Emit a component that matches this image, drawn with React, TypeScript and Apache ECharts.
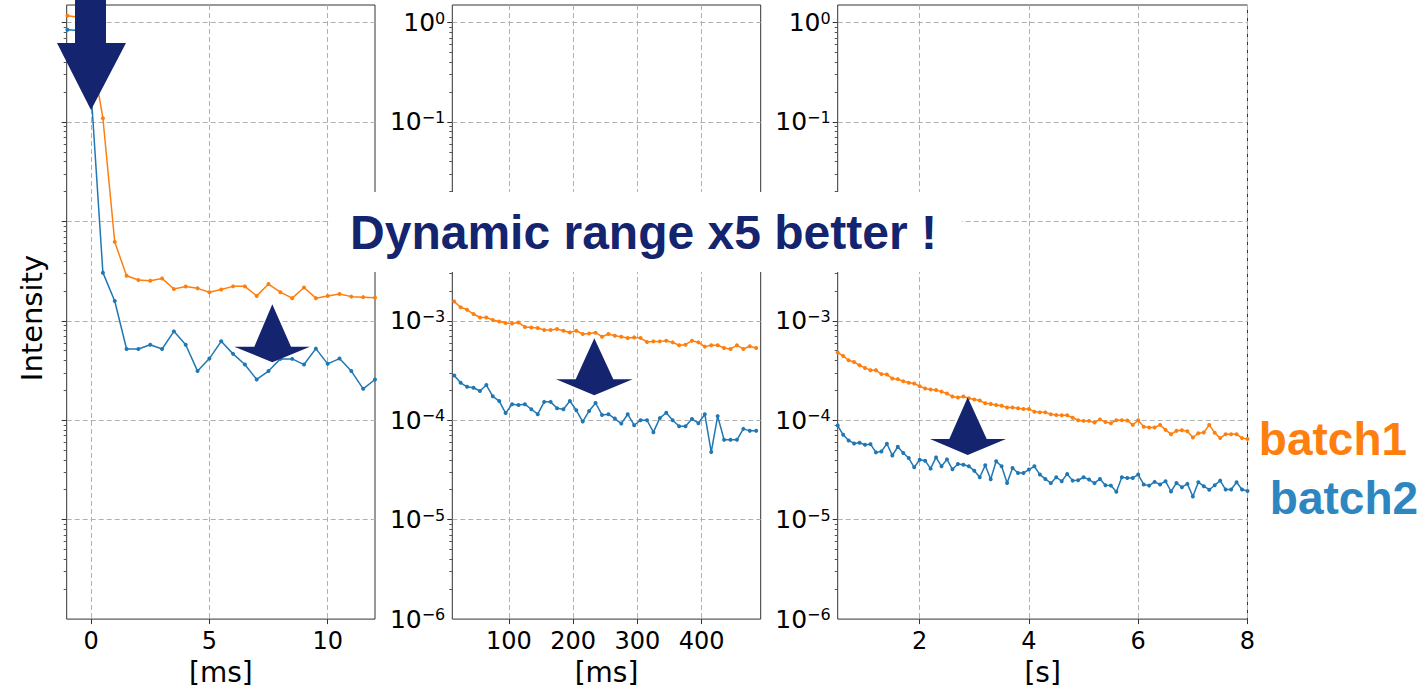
import { useEffect, useRef } from 'react';
import * as echarts from 'echarts';

// ---------- data ----------
const p1X = [-1, -0.5, 0, 0.5, 1, 1.5, 2, 2.5, 3, 3.5, 4, 4.5, 5, 5.5, 6, 6.5, 7, 7.5, 8, 8.5, 9, 9.5, 10, 10.5, 11, 11.5, 12];
const p1Batch1 = [1.17, 1.13, 0.53, 0.109, 0.00622, 0.00284, 0.00257, 0.00253, 0.00267, 0.00209, 0.00221, 0.00212, 0.00194, 0.00206, 0.00222, 0.00222, 0.00178, 0.00234, 0.00194, 0.00169, 0.00216, 0.00169, 0.00178, 0.00186, 0.00175, 0.00173, 0.00171];
const p1Batch2 = [0.845, 0.83, 0.2, 0.00305, 0.00158, 0.000521, 0.000521, 0.000575, 0.000521, 0.000783, 0.000575, 0.000312, 0.000417, 0.000622, 0.000465, 0.000363, 0.000257, 0.000312, 0.000414, 0.000414, 0.000363, 0.000525, 0.000369, 0.000417, 0.000312, 0.000207, 0.000257];

const p2X = [15, 25, 35, 45, 55, 65, 75, 85, 95, 105, 115, 125, 135, 145, 155, 165, 175, 185, 195, 205, 215, 225, 235, 245, 255, 265, 275, 285, 295, 305, 315, 325, 335, 345, 355, 365, 375, 385, 395, 405, 415, 425, 435, 445, 455, 465, 475, 485];
const p2Batch1 = [0.00156, 0.00137, 0.00129, 0.00117, 0.00108, 0.00108, 0.00102, 0.000985, 0.000948, 0.00094,
  0.000962, 0.000865, 0.000858, 0.000845, 0.000807, 0.000807, 0.000826, 0.000794, 0.000764, 0.000794,
  0.000736, 0.000747, 0.000759, 0.000692, 0.000736, 0.000708, 0.000692, 0.000671, 0.000681, 0.000671,
  0.000612, 0.000621, 0.000621, 0.000631, 0.000607, 0.000567, 0.000575, 0.000631, 0.000607, 0.00055,
  0.000567, 0.000567, 0.000533, 0.000521, 0.000567, 0.000521, 0.000554, 0.000533];
const p2Batch2 = [0.000282, 0.000238, 0.000217, 0.000212, 0.000197, 0.000226, 0.000174, 0.000156, 0.000118, 0.000145,
  0.000142, 0.000145, 0.000129, 0.000115, 0.000153, 0.000153, 0.000132, 0.000129, 0.000156, 0.000126,
  0.000097, 0.000124, 0.000149, 0.000113, 0.000115, 0.000104, 0.0000926, 0.000115, 0.0000891, 0.0001,
  0.0001, 0.0000759, 0.000105, 0.000119, 0.0001, 0.0000871, 0.0000871, 0.000103, 0.0000933, 0.000115,
  0.0000479, 0.00011, 0.0000636, 0.0000636, 0.0000636, 0.0000819, 0.0000782, 0.0000782];

const p3X = [0.5, 0.6, 0.7, 0.8, 0.9, 1.0, 1.1, 1.2, 1.3, 1.4, 1.5, 1.6, 1.7, 1.8, 1.9, 2.0, 2.1, 2.2, 2.3, 2.4, 2.5, 2.6, 2.7, 2.8, 2.9, 3.0, 3.1, 3.2, 3.3, 3.4, 3.5, 3.6, 3.7, 3.8, 3.9, 4.0, 4.1, 4.2, 4.3, 4.4, 4.5, 4.6, 4.7, 4.8, 4.9, 5.0, 5.1, 5.2, 5.3, 5.4, 5.5, 5.6, 5.7, 5.8, 5.9, 6.0, 6.1, 6.2, 6.3, 6.4, 6.5, 6.6, 6.7, 6.8, 6.9, 7.0, 7.1, 7.2, 7.3, 7.4, 7.5, 7.6, 7.7, 7.8, 7.9, 8.0];
const p3Batch1 = [0.000479, 0.000443, 0.000401, 0.000386, 0.000357, 0.000336, 0.000319, 0.000319, 0.000291, 0.000288,
  0.000263, 0.000259, 0.000247, 0.000238, 0.000234, 0.00022, 0.000209, 0.000204, 0.000201, 0.000194,
  0.000186, 0.000173, 0.000169, 0.000173, 0.000166, 0.000162, 0.000158, 0.000148, 0.000146, 0.000142,
  0.00014, 0.000134, 0.000134, 0.000132, 0.00013, 0.00013, 0.000122, 0.00012, 0.00012, 0.000115,
  0.000113, 0.000112, 0.000112, 0.000106, 0.0001, 0.0000985, 0.0000985, 0.0000948, 0.000102, 0.0000962,
  0.0000933, 0.0001, 0.0001, 0.0000992, 0.0000898, 0.0001, 0.0000858, 0.0000845, 0.0000845, 0.0000898,
  0.00008, 0.0000724, 0.0000782, 0.0000794, 0.0000776, 0.0000671, 0.0000741, 0.0000753, 0.0000898, 0.0000747,
  0.0000661, 0.0000724, 0.0000724, 0.0000724, 0.0000661, 0.0000646];
const p3Batch2 = [0.0000885, 0.0000714, 0.0000626, 0.0000584, 0.0000593, 0.0000567, 0.0000575, 0.0000475, 0.0000486, 0.000058,
  0.0000443, 0.0000541, 0.0000468, 0.0000417, 0.0000336, 0.0000401, 0.0000392, 0.0000326, 0.0000423, 0.0000344,
  0.0000404, 0.0000321, 0.0000363, 0.0000357, 0.0000344, 0.0000311, 0.0000267, 0.0000352, 0.0000255, 0.0000386,
  0.0000344, 0.0000234, 0.0000331, 0.0000295, 0.0000295, 0.0000319, 0.0000344, 0.0000284, 0.0000257, 0.0000233,
  0.0000267, 0.0000244, 0.0000288, 0.0000247, 0.0000249, 0.0000267, 0.0000253, 0.0000233, 0.0000257, 0.0000222,
  0.000022, 0.0000191, 0.0000267, 0.0000263, 0.0000263, 0.0000284, 0.0000226, 0.000022, 0.000024, 0.0000226,
  0.0000244, 0.0000192, 0.0000234, 0.0000212, 0.0000229, 0.0000171, 0.0000238, 0.0000217, 0.00002, 0.0000222,
  0.0000247, 0.0000201, 0.0000201, 0.0000238, 0.0000201, 0.0000194];

// ---------- ticks ----------
// 10^-2 labels of the right panels sit under the white caption box in the reference
const yMajorLabels = [1e-6, 1e-5, 1e-4, 1e-3, 1e-1, 1];
const yMajorTicks = [1e-5, 1e-4, 1e-3, 1e-2, 1e-1, 1];
const yMinorTicks = [
  2e-6, 3e-6, 4e-6, 5e-6, 6e-6, 7e-6, 8e-6, 9e-6,
  2e-5, 3e-5, 4e-5, 5e-5, 6e-5, 7e-5, 8e-5, 9e-5,
  2e-4, 3e-4, 4e-4, 5e-4, 6e-4, 7e-4, 8e-4, 9e-4,
  2e-3, 3e-3, 4e-3, 5e-3, 6e-3, 7e-3, 8e-3, 9e-3,
  2e-2, 3e-2, 4e-2, 5e-2, 6e-2, 7e-2, 8e-2, 9e-2,
  2e-1, 3e-1, 4e-1, 5e-1, 6e-1, 7e-1, 8e-1, 9e-1,
];
const p1XTicks = [0, 5, 10];
const p2XTicks = [100, 200, 300, 400];
const p3XTicks = [2, 4, 6, 8];
const xNames = ['[ms]', '[ms]', '[s]'];

const ORANGE = '#ff7f0e';
const BLUE = '#1f77b4';
const NAVY = '#14246f';
const FONT = 'DejaVu Sans';

const grids = [
  { left: 66.7, top: 5, width: 308.3, height: 617.7 },
  { left: 452.3, top: 5, width: 308.4, height: 617.7 },
  { left: 837.7, top: 5, width: 409.8, height: 617.7 },
];
const xRanges = [[-1.03, 12], [12, 492], [0.5, 8]];
const xTicks = [p1XTicks, p2XTicks, p3XTicks];

const splitLine = { show: true, lineStyle: { color: '#b0b0b0', width: 1, type: [5, 3] } };

function supLabel(v: number) {
  const e = Math.round(Math.log10(v));
  const s = e < 0 ? '\u2212' + -e : String(e);
  return `{b|10}{s|${s}}`;
}

function buildOption() {
  const xAxis = grids.map((_, i) => ({
    type: 'value',
    gridIndex: i,
    min: xRanges[i][0],
    max: xRanges[i][1],
    name: xNames[i],
    nameLocation: 'middle',
    nameGap: 37,
    nameTextStyle: { fontSize: 28, fontFamily: FONT, color: '#000' },
    axisLine: { show: false, onZero: false },
    axisTick: { show: true, length: 5, customValues: xTicks[i], lineStyle: { color: '#333' } },
    axisLabel: { show: true, margin: 10, fontSize: 24, fontFamily: FONT, color: '#000', customValues: xTicks[i] },
    splitLine,
  }));

  const yAxis: any[] = [];
  grids.forEach((_, i) => {
    yAxis.push({
      type: 'log',
      logBase: 10,
      gridIndex: i,
      position: 'left',
      min: 1e-6,
      max: 1.5,
      name: i === 0 ? 'Intensity' : '',
      nameLocation: 'middle',
      nameGap: 20,
      nameTextStyle: { fontSize: 29, fontFamily: FONT, color: '#000', padding: [0, 12, 0, 0] },
      axisLine: { show: false, onZero: false },
      axisTick: { show: true, length: 5, customValues: yMajorTicks, lineStyle: { color: '#333' } },
      axisLabel: {
        show: i > 0,
        margin: 7,
        customValues: yMajorLabels,
        formatter: supLabel,
        rich: {
          b: { fontSize: 25, fontFamily: FONT, color: '#000' },
          s: { fontSize: 16, fontFamily: FONT, color: '#000', verticalAlign: 'top' },
        },
      },
      splitLine,
    });
    yAxis.push({
      type: 'log',
      logBase: 10,
      gridIndex: i,
      position: 'left',
      min: 1e-6,
      max: 1.5,
      axisLine: { show: false, onZero: false },
      axisTick: { show: true, length: 3, customValues: yMinorTicks, lineStyle: { color: '#555' } },
      axisLabel: { show: false },
      splitLine: { show: false },
    });
  });

  const zip = (xs: number[], ys: number[]) => xs.map((x, k) => [x, ys[k]]);
  const mk = (i: number, name: string, xs: number[], ys: number[], color: string) => ({
    type: 'line',
    name,
    xAxisIndex: i,
    yAxisIndex: 2 * i,
    data: zip(xs, ys),
    symbol: 'circle',
    symbolSize: 4,
    showSymbol: true,
    lineStyle: { color, width: 1.5 },
    itemStyle: { color },
    clip: true,
    z: 3,
  });

  const series = [
    mk(0, 'batch1', p1X, p1Batch1, ORANGE),
    mk(0, 'batch2', p1X, p1Batch2, BLUE),
    mk(1, 'batch1', p2X, p2Batch1, ORANGE),
    mk(1, 'batch2', p2X, p2Batch2, BLUE),
    mk(2, 'batch1', p3X, p3Batch1, ORANGE),
    mk(2, 'batch2', p3X, p3Batch2, BLUE),
  ];

  const arrow = (pts: number[][]) => ({ type: 'polygon', z: 100, shape: { points: pts }, style: { fill: NAVY } });
  const bigText = (text: string, x: number, y: number, size: number, fill: string) => ({
    type: 'text',
    z: 110,
    style: {
      text, x, y, fill,
      fontSize: size, fontWeight: 'bold', fontFamily: 'Liberation Sans',
      align: 'center', verticalAlign: 'middle',
      textAlign: 'center', textVerticalAlign: 'middle',
    },
  });

  const graphic = [
    { type: 'rect', z: 90, shape: { x: 331, y: 192, width: 631, height: 80 }, style: { fill: '#fff' } },
    bigText('Dynamic range x5 better !', 643.5, 232, 48, NAVY),
    arrow([[75, -5], [106, -5], [106, 43], [126, 43], [91, 110], [57, 43], [75, 43]]),
    arrow([[272.3, 304.3], [291, 346.7], [310, 346.7], [272.3, 362.3], [234.3, 346.7], [254.3, 346.7]]),
    arrow([[594.3, 338.3], [613.3, 379.3], [632.7, 379.3], [594.3, 395.3], [556, 379.3], [575.7, 379.3]]),
    arrow([[967.7, 397.3], [986.7, 439], [1006, 439], [967.7, 455], [930, 439], [949.3, 439]]),
    bigText('batch1', 1333, 439, 46, ORANGE),
    bigText('batch2', 1344, 498, 46, '#2e86c1'),
  ];

  return {
    animation: false,
    backgroundColor: '#fff',
    textStyle: { fontFamily: FONT },
    grid: grids.map((g) => ({ ...g, show: true, borderColor: '#333', borderWidth: 1, backgroundColor: 'transparent' })),
    xAxis,
    yAxis,
    series,
    graphic,
  };
}

export default function App() {
  const ref = useRef<HTMLDivElement>(null);
  useEffect(() => {
    if (!ref.current) return;
    const chart = echarts.init(ref.current, undefined, { renderer: 'svg' });
    chart.setOption(buildOption() as any);
    return () => chart.dispose();
  }, []);
  return (
    <div
      ref={ref}
      style={{ position: 'fixed', left: 0, top: 0, width: 1423, height: 691, background: '#fff' }}
    />
  );
}
